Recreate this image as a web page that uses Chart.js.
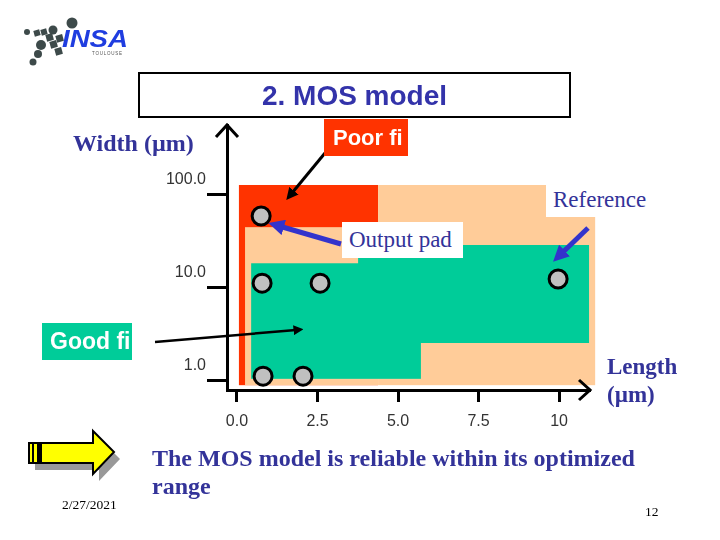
<!DOCTYPE html>
<html lang="en">
<head>
<meta charset="UTF-8">
<title>2. MOS model</title>
<script src="https://cdn.jsdelivr.net/npm/chart.js"></script>
<style>
    body {
        margin: 0;
        width: 720px;
        height: 540px;
        position: relative;
        overflow: hidden;
        background: #fff;
        font-family: "Liberation Sans", Arial, sans-serif;
    }
    #grafico { position: absolute; left: 0; top: 0; }
    #deco { position: absolute; left: 0; top: 0; }
    .abs { position: absolute; white-space: nowrap; }
    .serif { font-family: "Liberation Serif", "Times New Roman", serif; color: #333399; }
    .titulo {
        left: 138px; top: 72px; width: 433px; height: 46px;
        box-sizing: border-box; border: 2px solid #000;
        text-align: center; font-weight: bold; font-size: 28px;
        line-height: 44px; color: #3333AA;
    }
    .etiqueta {
        overflow: hidden; color: #fff; font-weight: bold;
    }
    .caja { background: #fff; }
</style>
</head>
<body>
<canvas id="grafico" width="720" height="540"></canvas>

<svg id="deco" width="720" height="540">
    <defs>
        <marker id="puntaNegra" markerWidth="4" markerHeight="4" refX="1" refY="2" orient="auto" markerUnits="strokeWidth">
            <path d="M0,0 L4,2 L0,4 z" fill="#000"/>
        </marker>
        <marker id="puntaAzul" markerWidth="3.2" markerHeight="3.2" refX="1" refY="1.6" orient="auto" markerUnits="strokeWidth">
            <path d="M0,0 L3.2,1.6 L0,3.2 z" fill="#3333CC"/>
        </marker>
    </defs>
    <!-- logo -->
    <g fill="#3d4a4a">
        <circle cx="27" cy="32" r="3"/>
        <rect x="34" y="30" width="6" height="6" transform="rotate(-15 37 33)"/>
        <rect x="41" y="29" width="6" height="6" transform="rotate(-15 44 32)"/>
        <circle cx="53" cy="30" r="4.5"/>
        <rect x="46" y="34" width="7" height="7" transform="rotate(-15 49 37)"/>
        <circle cx="41" cy="45" r="5"/>
        <rect x="50" y="41" width="7" height="7" transform="rotate(-15 53 44)"/>
        <rect x="56" y="35" width="7" height="7" transform="rotate(-15 59 38)"/>
        <circle cx="72" cy="23" r="5.5"/>
        <rect x="55" y="48" width="7" height="7" transform="rotate(-15 58 51)"/>
        <circle cx="38" cy="54" r="4"/>
        <circle cx="33" cy="62" r="3.5"/>
    </g>
    <text x="62" y="47" font-family="Liberation Sans" font-weight="bold" font-style="italic" font-size="24" fill="#1f3de0" textLength="66" lengthAdjust="spacingAndGlyphs">INSA</text>
    <text x="92" y="55" font-family="Liberation Sans" font-size="4.5" fill="#555" textLength="30">TOULOUSE</text>

    <!-- flecha amarilla -->
    <polygon points="35,450 99,450 99,438 120,459 99,481 99,470 35,470" fill="#999"/>
    <polygon points="29,443 93,443 93,431 114,452 93,474 93,463 29,463" fill="#FFFF00" stroke="#000" stroke-width="2"/>
    <line x1="33" y1="443" x2="33" y2="463" stroke="#000" stroke-width="2"/>
    <rect x="37" y="443" width="5" height="20" fill="#000"/>

    <!-- flechas de anotacion -->
    <line x1="325" y1="153" x2="292" y2="193" stroke="#000" stroke-width="3" marker-end="url(#puntaNegra)"/>
    <line x1="155" y1="342" x2="296" y2="330" stroke="#000" stroke-width="2.5" marker-end="url(#puntaNegra)"/>
    <line x1="341" y1="244" x2="279" y2="226" stroke="#3333CC" stroke-width="5" marker-end="url(#puntaAzul)"/>
    <line x1="588" y1="228" x2="561" y2="254" stroke="#3333CC" stroke-width="5" marker-end="url(#puntaAzul)"/>
</svg>

<div class="abs titulo">2. MOS model</div>
<div class="abs serif" style="left:73px; top:131px; font-size:24px; font-weight:bold; line-height:24px;">Width (µm)</div>
<div class="abs etiqueta" style="left:324px; top:119px; width:75px; height:37px; padding-left:9px; background:#FF3300; font-size:22px; line-height:37px;">Poor fi</div>
<div class="abs etiqueta" style="left:42px; top:323px; width:82px; height:37px; padding-left:8px; background:#00CC99; font-size:23px; line-height:37px;">Good fi</div>
<div class="abs serif caja" style="left:342px; top:222px; width:114px; height:36px; padding-left:7px; font-size:23px; line-height:36px;">Output pad</div>
<div class="abs serif caja" style="left:546px; top:185px; width:110px; height:32px; padding-left:7px; font-size:23px; line-height:30px;">Reference</div>
<div class="abs serif" style="left:607px; top:353px; font-size:23px; font-weight:bold; line-height:28px;">Length<br>(µm)</div>
<div class="abs serif" style="left:152px; top:444px; font-size:24px; font-weight:bold; line-height:28px;">The MOS model is reliable within its optimized<br>range</div>
<div class="abs" style="left:62px; top:497px; font-family:'Liberation Serif',serif; font-size:13.5px; line-height:15px;">2/27/2021</div>
<div class="abs" style="left:645px; top:504px; font-family:'Liberation Serif',serif; font-size:13.5px; line-height:15px;">12</div>

<script>
    // ticks de los ejes
    const xTickValues = [0, 2.5, 5, 7.5, 10];
    const xTickLabels = ['0.0', '2.5', '5.0', '7.5', '10'];
    const yTickValues = [1, 10, 100];
    const yTickLabels = ['1.0', '10.0', '100.0'];

    // transistores medidos: largo y ancho en µm
    const lengths = [0.75, 0.78, 2.58, 9.97, 0.81, 2.05];
    const widths = [58, 11, 11, 12.2, 1.1, 1.1];

    // zonas [Lmin, Lmax, Wmin, Wmax] en µm
    const poorFitZones = [[0.06, 4.38, 0.88, 125]];
    const fairZones = [[0.25, 4.38, 0.88, 44], [4.38, 11.12, 0.88, 125]];
    const goodFitZones = [[0.44, 5.71, 1.03, 18], [3.76, 10.93, 2.5, 28.3]];

    const zonasPlugin = {
        id: 'zonas',
        beforeDatasetsDraw(chart) {
            const { ctx, scales: { x, y } } = chart;
            const capas = [[poorFitZones, '#FF3300'], [fairZones, '#FFCC99'], [goodFitZones, '#00CC99']];
            ctx.save();
            capas.forEach(([zonas, color]) => {
                ctx.fillStyle = color;
                zonas.forEach(([l0, l1, w0, w1]) => {
                    const x0 = x.getPixelForValue(l0);
                    const x1 = x.getPixelForValue(l1);
                    const yb = y.getPixelForValue(w0);
                    const yt = y.getPixelForValue(w1);
                    ctx.fillRect(x0, yt, x1 - x0, yb - yt);
                });
            });
            ctx.restore();
        }
    };

    const flechasEjes = {
        id: 'flechasEjes',
        afterDraw(chart) {
            const { ctx, chartArea: a } = chart;
            ctx.save();
            ctx.strokeStyle = '#000';
            ctx.lineWidth = 3;
            ctx.beginPath();
            ctx.moveTo(a.left - 11, a.top + 12);
            ctx.lineTo(a.left, a.top);
            ctx.lineTo(a.left + 11, a.top + 12);
            ctx.moveTo(a.right - 11, a.bottom - 10);
            ctx.lineTo(a.right, a.bottom);
            ctx.lineTo(a.right - 11, a.bottom + 10);
            ctx.stroke();
            ctx.restore();
        }
    };

    const fuenteTicks = { family: 'Liberation Sans', size: 16 };

    new Chart(document.getElementById('grafico'), {
        type: 'scatter',
        data: {
            datasets: [{
                data: lengths.map((l, i) => ({ x: l, y: widths[i] })),
                pointRadius: 9,
                pointBorderWidth: 3,
                pointBackgroundColor: '#C0C0C0',
                pointBorderColor: '#000'
            }]
        },
        options: {
            responsive: false,
            animation: false,
            layout: { padding: { left: 167, right: 130, top: 125, bottom: 90 } },
            plugins: { legend: { display: false }, tooltip: { enabled: false } },
            scales: {
                x: {
                    type: 'linear',
                    min: -0.31,
                    max: 10.96,
                    afterBuildTicks: s => { s.ticks = xTickValues.map(v => ({ value: v })); },
                    afterFit: s => { s.height = 60; },
                    grid: { drawOnChartArea: false, tickLength: 12, tickWidth: 3, tickColor: '#000' },
                    border: { display: true, color: '#000', width: 3 },
                    ticks: {
                        autoSkip: false, maxRotation: 0, padding: 10,
                        color: '#333', font: fuenteTicks,
                        callback: (v, i) => xTickLabels[i]
                    }
                },
                y: {
                    type: 'logarithmic',
                    min: 0.781,
                    max: 552,
                    afterBuildTicks: s => { s.ticks = yTickValues.map(v => ({ value: v })); },
                    afterFit: s => { s.width = 60; },
                    grid: { drawOnChartArea: false, tickLength: 20, tickWidth: 3, tickColor: '#000' },
                    border: { display: true, color: '#000', width: 3 },
                    ticks: {
                        autoSkip: false, padding: 1, labelOffset: -14,
                        color: '#333', font: fuenteTicks,
                        callback: (v, i) => yTickLabels[i]
                    }
                }
            }
        },
        plugins: [zonasPlugin, flechasEjes]
    });
</script>
</body>
</html>
